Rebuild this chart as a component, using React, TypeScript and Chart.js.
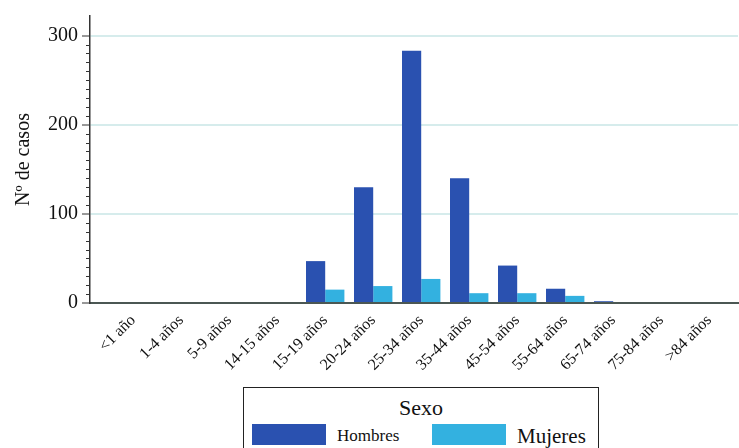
import React, { useEffect, useRef } from "react";
import { Chart, registerables } from "chart.js";

Chart.register(...registerables);

const categories = [
  "<1 año", "1-4 años", "5-9 años", "14-15 años", "15-19 años", "20-24 años",
  "25-34 años", "35-44 años", "45-54 años", "55-64 años", "65-74 años", "75-84 años", ">84 años",
];
const hombres = [0, 0, 0, 0, 47, 130, 283, 140, 42, 16, 2, 0, 0];
const mujeres = [0, 0, 0, 0, 15, 19, 27, 11, 11, 8, 0, 0, 0];
const yMajorTicks = [0, 100, 200, 300];
const seriesNames = ["Hombres", "Mujeres"];
const legendTitle = "Sexo";
const yTitle = "Nº de casos";

const C_H = "#2a51b0";
const C_M = "#33b1e0";
const FONT = "'Liberation Serif', 'Times New Roman', serif";

const minorTicks = {
  id: "minorTicks",
  afterDraw(chart: any) {
    const y = chart.scales.y;
    const ctx = chart.ctx;
    const x0 = chart.chartArea.left;
    ctx.save();
    ctx.strokeStyle = "#333";
    ctx.lineWidth = 1;
    for (let v = 10; v < 300; v += 10) {
      if (v % 100 === 0) continue;
      const py = Math.round(y.getPixelForValue(v)) + 0.5;
      ctx.beginPath();
      ctx.moveTo(x0 - 4, py);
      ctx.lineTo(x0, py);
      ctx.stroke();
    }
    ctx.restore();
  },
};

export default function App() {
  const ref = useRef<HTMLCanvasElement | null>(null);
  useEffect(() => {
    if (!ref.current) return;
    const chart = new Chart(ref.current, {
      type: "bar",
      data: {
        datasets: [
          {
            label: seriesNames[0],
            data: hombres.map((v, i) => ({ x: i, y: v })),
            backgroundColor: C_H,
            borderWidth: 0,
          },
          {
            label: seriesNames[1],
            data: mujeres.map((v, i) => ({ x: i, y: v })),
            backgroundColor: C_M,
            borderWidth: 0,
          },
        ],
      },
      options: {
        responsive: false,
        animation: false,
        categoryPercentage: 0.8,
        barPercentage: 1.0,
        layout: { padding: { top: 16, right: 1, left: 0, bottom: 65 } },
        plugins: { legend: { display: false }, tooltip: { enabled: false } },
        scales: {
          x: {
            type: "linear",
            offset: false,
            min: -0.9,
            max: 12.6,
            afterBuildTicks: (s: any) => {
              s.ticks = categories.map((_, i) => ({ value: i }));
            },
            afterFit: (s: any) => {
              s.height = 80;
              s.paddingLeft = 0;
              s.paddingRight = 0;
            },
            grid: { display: false, offset: false },
            border: { display: true, color: "#4b5753", width: 2 },
            ticks: {
              autoSkip: false,
              minRotation: 45,
              maxRotation: 45,
              padding: 0,
              color: "#111",
              font: { family: FONT, size: 16 },
              callback: (v: any) => categories[v] ?? "",
            },
          },
          y: {
            type: "linear",
            min: 0,
            max: 322,
            afterBuildTicks: (s: any) => {
              s.ticks = yMajorTicks.map((v) => ({ value: v }));
            },
            afterFit: (s: any) => {
              s.width = 90;
            },
            grid: {
              color: (c: any) => (c.tick && c.tick.value > 0 ? "#d6ecec" : "rgba(0,0,0,0)"),
              lineWidth: 2,
              tickColor: "#333",
              tickLength: 8,
              tickWidth: 1,
            },
            border: { display: true, color: "#333", width: 1.5 },
            ticks: {
              autoSkip: false,
              padding: 4,
              color: "#111",
              font: { family: FONT, size: 20 },
            },
            title: {
              display: true,
              text: yTitle,
              color: "#111",
              font: { family: FONT, size: 20 },
              padding: { top: 12, bottom: 0 },
            },
          },
        },
      },
      plugins: [minorTicks],
    });
    return () => chart.destroy();
  }, []);

  const txt: React.CSSProperties = { position: "absolute", fontFamily: FONT, color: "#111", whiteSpace: "nowrap" };

  return (
    <div style={{ position: "fixed", left: 0, top: 0, width: 739, height: 448, overflow: "hidden", background: "#fff" }}>
      <canvas ref={ref} width={739} height={448} style={{ position: "absolute", left: 0, top: 0 }} />
      <div
        style={{
          position: "absolute",
          left: 243,
          top: 387,
          width: 354,
          height: 80,
          border: "1px solid #222",
          background: "#fff",
        }}
      />
      <div style={{ ...txt, left: 243, width: 356, textAlign: "center", top: 397, fontSize: 22, lineHeight: "22px" }}>
        {legendTitle}
      </div>
      <div style={{ position: "absolute", left: 252, top: 424, width: 74, height: 21, background: C_H }} />
      <div style={{ ...txt, left: 337, top: 427, fontSize: 17, lineHeight: "17px" }}>{seriesNames[0]}</div>
      <div style={{ position: "absolute", left: 432, top: 424, width: 74, height: 21, background: C_M }} />
      <div style={{ ...txt, left: 517, top: 426, fontSize: 21, lineHeight: "21px" }}>{seriesNames[1]}</div>
    </div>
  );
}
